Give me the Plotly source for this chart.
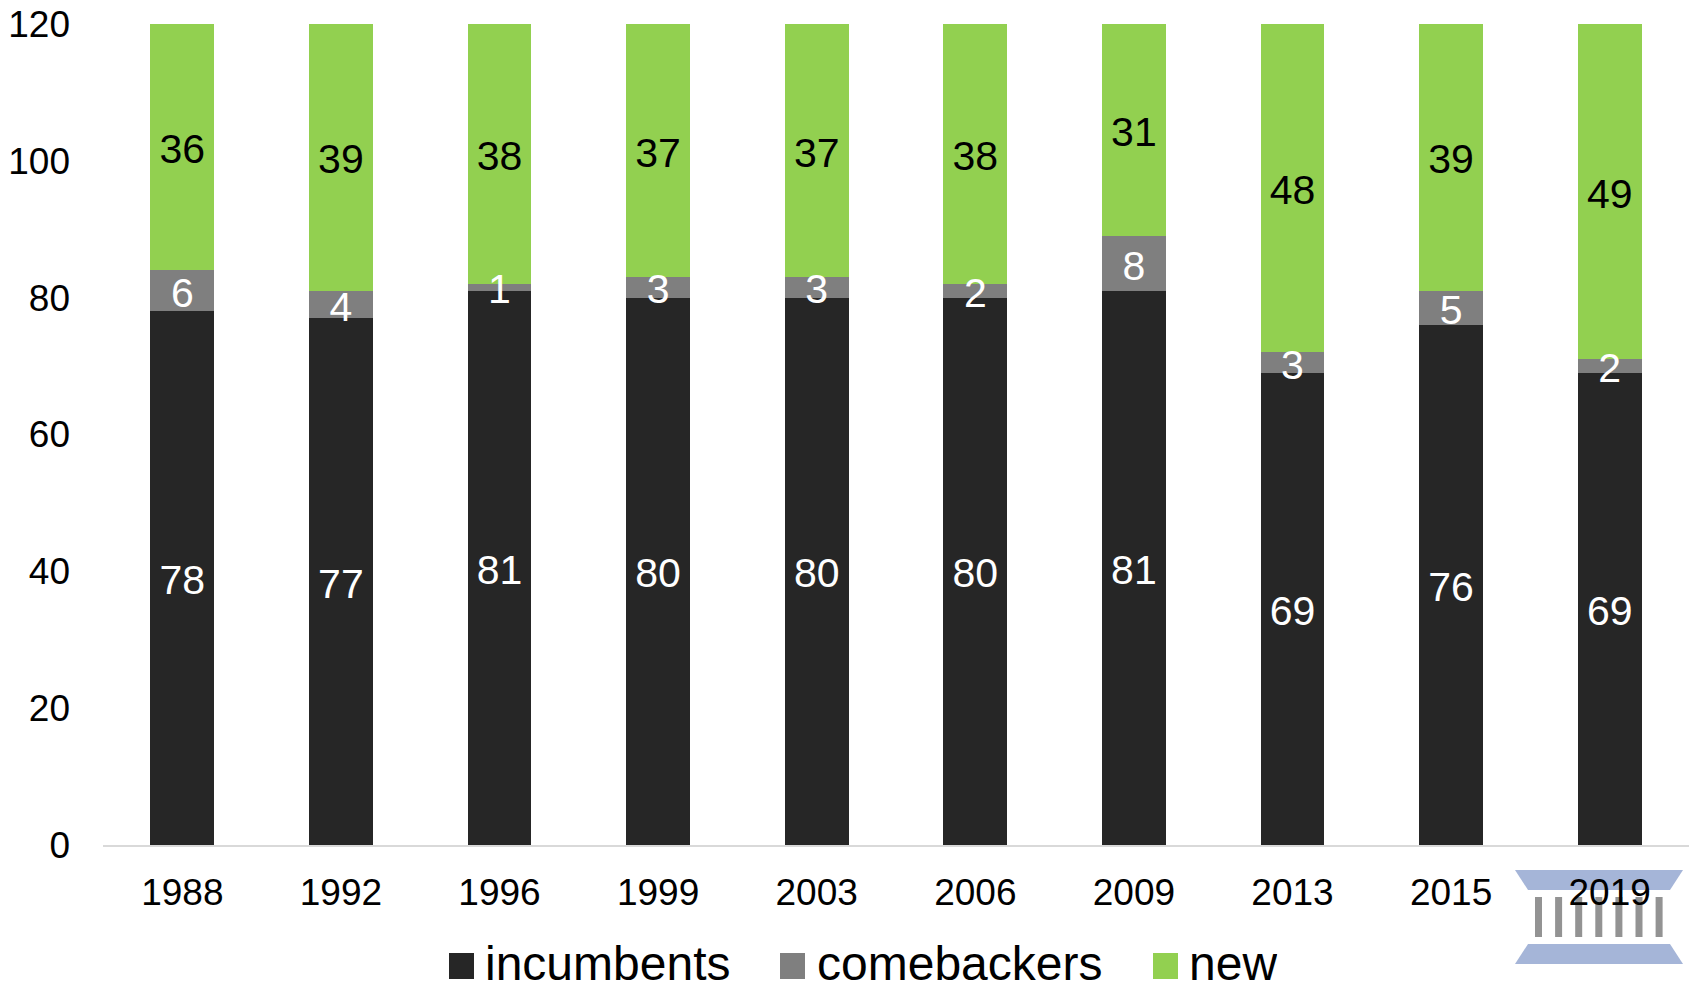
import plotly.graph_objects as go

years = ["1988", "1992", "1996", "1999", "2003", "2006", "2009", "2013", "2015", "2019"]
incumbents = [78, 77, 81, 80, 80, 80, 81, 69, 76, 69]
comebackers = [6, 4, 1, 3, 3, 2, 8, 3, 5, 2]
new = [36, 39, 38, 37, 37, 38, 31, 48, 39, 49]
y_ticks = [0, 20, 40, 60, 80, 100, 120]

series_names = ["incumbents", "comebackers", "new"]
series_values = [incumbents, comebackers, new]
series_colors = ["#262626", "#7F7F7F", "#92D050"]
label_colors = ["white", "white", "black"]
legend_swatch_x = [449, 780, 1153]
legend_text_x = [483, 815, 1187]

W, H = 1694, 984
FONT = "Liberation Sans, Arial, sans-serif"
ML, MR, MT, MB = 103, 5, 24, 139
LABEL_DROP = 0.85  # data labels sit a little below the segment centre


def px(x):
    return (x - ML) / (W - ML - MR)


def py(y):
    return (H - MB - y) / (H - MT - MB)


fig = go.Figure()
for name, vals, col in zip(series_names, series_values, series_colors):
    fig.add_trace(go.Bar(
        x=years, y=vals, name=name, width=0.403,
        marker=dict(color=col, line=dict(width=0)),
        showlegend=False, hoverinfo="x+y+name",
    ))

# labels go in a text layer above all bars, so thin segments do not clip them
base = [0] * len(years)
for vals, lc, name in zip(series_values, label_colors, series_names):
    mids = [b + v / 2 - LABEL_DROP for b, v in zip(base, vals)]
    fig.add_trace(go.Scatter(
        x=years, y=mids, mode="text", text=[str(v) for v in vals],
        textposition="middle center", cliponaxis=False, showlegend=False,
        hoverinfo="skip", name=name + " labels",
        textfont=dict(family=FONT, size=41, color=lc),
    ))
    base = [b + v for b, v in zip(base, vals)]

shapes = []
BLUE, GREY = "#A5B5D8", "#939393"


def poly(points, color):
    d = "M" + "L".join(f"{px(a)},{py(b)}" for a, b in points) + "Z"
    return dict(type="path", path=d, xref="paper", yref="paper", fillcolor=color,
                line=dict(width=0), layer="below")


shapes.append(poly([(1515, 870), (1683, 870), (1670, 890), (1528, 890)], BLUE))
shapes.append(poly([(1528, 944), (1670, 944), (1683, 964), (1515, 964)], BLUE))
for i in range(7):
    x0 = 1535 + 20.1 * i
    shapes.append(poly([(x0, 897), (x0 + 7, 897), (x0 + 7, 937), (x0, 937)], GREY))

annotations = []
for name, col, sx, tx in zip(series_names, series_colors, legend_swatch_x, legend_text_x):
    shapes.append(poly([(sx, 953), (sx + 25, 953), (sx + 25, 979), (sx, 979)], col))
    annotations.append(dict(
        text=name, xref="paper", yref="paper", x=px(tx), y=py(963),
        xanchor="left", yanchor="middle", showarrow=False, height=42, valign="middle",
        font=dict(family=FONT, size=48, color="black"),
    ))

fig.update_layout(
    barmode="stack", width=W, height=H,
    margin=dict(l=ML, r=MR, t=MT, b=MB, pad=0),
    paper_bgcolor="white", plot_bgcolor="white",
    shapes=shapes, annotations=annotations,
    xaxis=dict(type="category", showgrid=False, showline=True, linecolor="#D9D9D9", linewidth=2,
               ticks="", tickfont=dict(family=FONT, size=37, color="black"), ticklabelstandoff=14),
    yaxis=dict(range=[0, 120], tickvals=y_ticks, showgrid=False, zeroline=False, showline=False,
               ticks="", tickfont=dict(family=FONT, size=37, color="black"), ticklabelstandoff=32),
)
fig.write_html("out.html", config={"displayModeBar": False},
               post_script="document.body.style.margin='0';document.body.style.overflow='hidden';")
